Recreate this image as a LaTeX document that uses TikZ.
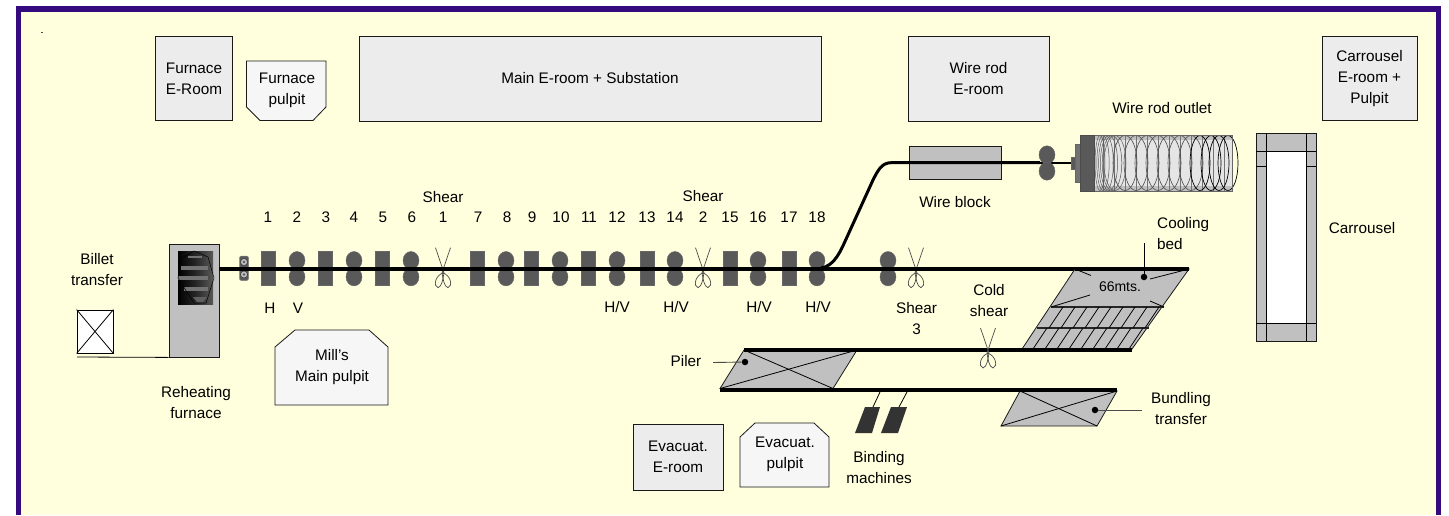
\documentclass[tikz,border=0pt]{standalone}
\usepackage{fontspec}
\setmainfont{Liberation Sans}
\usetikzlibrary{calc}
\definecolor{framecol}{HTML}{350A7E}
\definecolor{paper}{HTML}{FFFEDD}
\definecolor{roomcol}{HTML}{ECECEC}
\definecolor{pulpitcol}{HTML}{F6F6F6}
\definecolor{steel}{HTML}{C0C0C0}
\definecolor{stand}{HTML}{595959}
\tikzset{
  label/.style={inner sep=0pt,align=center,text=black,font=\fontsize{15.3}{21}\selectfont},
  room/.style={label,draw=black!90,fill=roomcol,line width=0.8pt},
  pulpit/.style={draw=black!90,fill=pulpitcol,line width=0.8pt},
  rail/.style={line width=3.8pt,black},
  wire/.style={line width=3pt,black},
  plate/.style={draw=black!90,fill=steel,line width=0.8pt},
  thin line/.style={draw=black,line width=0.8pt},
  leader/.style={draw=black!70,line width=0.9pt},
  dot/.style={circle,fill=black,inner sep=0pt,minimum size=6.5pt},
  scissors/.pic={
    \draw[black!70,line width=0.7pt] (-7.5,-21) -- (1,4) .. controls (-8,6) and (-10,18) .. (-5,19) .. controls (-1,18) and (0,10) .. (1,4);
    \draw[black!70,line width=0.7pt] (7.5,-21) -- (-1,4) .. controls (8,6) and (10,18) .. (5,19) .. controls (1,18) and (0,10) .. (-1,4);
  },
  rolls/.pic={
    \fill[stand,draw=black!60,line width=0.4pt] (0,-8.2) ellipse (8 and 9);
    \fill[stand,draw=black!60,line width=0.4pt] (0,8.2) ellipse (8 and 9);
  }
}
\begin{document}
\begin{tikzpicture}[x=1pt,y=-1pt]
\useasboundingbox (0,0) rectangle (1449,515);
% background and frame
\fill[white] (0,0) rectangle (1449,515);
\fill[framecol] (16,6) rectangle (1441,515);
\fill[paper] (21,12) rectangle (1436,515);
\fill[black!70] (41,32) rectangle (43,33);

% rooms
\node[room,minimum width=77pt,minimum height=84pt] (furnaceroom) at (194,78.5) {Furnace\\E-Room};
\node[room,minimum width=462pt,minimum height=85pt] (mainroom) at (590,78.5) {Main E-room + Substation};
\node[room,minimum width=141pt,minimum height=85pt] (wireroom) at (978.5,78.5) {Wire rod\\E-room};
\node[room,minimum width=95pt,minimum height=84pt] (carroom) at (1369.5,78.5) {Carrousel\\E-room +\\Pulpit};
\node[room,minimum width=90pt,minimum height=66pt] (evacroom) at (678,457) {Evacuat.\\E-room};

% pulpits
\draw[pulpit] (246.5,61) -- (326,61) -- (326,107) -- (313,120.5) -- (260,120.5) -- (246.5,107) -- cycle;
\node[label] (furnacepulpit) at (287,90.5) {Furnace\\pulpit};
\draw[pulpit] (275,347) -- (295,330) -- (369,330) -- (388,347) -- (388,405) -- (275,405) -- cycle;
\node[label] (millpulpit) at (332,367) {Mill's\\Main pulpit};
\draw[pulpit] (740,437) -- (755,423) -- (814,423) -- (829,437) -- (829,487) -- (740,487) -- cycle;
\node[label] (evacpulpit) at (785,454.5) {Evacuat.\\pulpit};

% billet transfer and furnace
\node[label] (billetlabel) at (97,270) {Billet\\transfer};
\node[draw=black,fill=white,line width=0.8pt,minimum width=36pt,minimum height=43pt,inner sep=0pt] (billet) at (95,331.5) {};
\draw[thin line] (billet.north west) -- (billet.south east);
\draw[thin line] (billet.north east) -- (billet.south west);
\node[plate,minimum width=50pt,minimum height=113pt,inner sep=0pt] (furnace) at (194,300.5) {};
\draw[thin line] (77,357) -- (furnace.south west);
\node[label] (furnacelabel) at (196,402.5) {Reheating\\furnace};
\shade[left color=black,right color=black!65,middle color=black!85] (178,251) rectangle (213,304);
\fill[black!55] (188,256) rectangle (202,258);
\fill[steel!60!black] (181,266) rectangle (208,270);
\fill[steel!60!black] (178,276) rectangle (208,280);
\fill[steel!60!black] (184,287) rectangle (208,291);
\fill[steel!50!black] (193,297) -- (207,297) -- (203,302) -- (197,302) -- cycle;
\draw[black,line width=0.5pt] (182,258) -- (194,251) -- (208,257) -- (214,278) -- (206,303) -- (194,303) -- (178,278) -- cycle;

% main line
\coordinate (linestart) at (furnace.east |- 0,268.7);
\coordinate (lineend) at (1189,268.7);
\draw[fill=stand,draw=black!50,line width=0.5pt,rounded corners=2pt] (239.5,256) rectangle (248.5,280.5);
\foreach \y in {262,274.5} {
  \draw[fill=steel,draw=black!80,line width=0.5pt] (244,\y) circle (3.5);
  \fill[stand] (244,\y) circle (1.3);
}
\foreach \x in {268,325,382,477,531,588,647,730,789} {
  \fill[stand,draw=black!60,line width=0.4pt] (\x-7.2,251) rectangle (\x+7.2,285.5);
}
\foreach \x in {297,354,411,506,560,617,675,758,817,888} {
  \pic at (\x,268.7) {rolls};
}
\foreach \x in {443,703,916} {
  \pic at (\x,268.7) {scissors};
}
\draw[rail] (linestart) -- (lineend);
\foreach \x/\n in {268/1,297/2,326/3,354/4,383/5,412/6,443/1,478/7,507/8,532/9,561/10,589/11,617/12,647/13,675/14,703/2,730/15,758/16,789/17,817/18} {
  \node[label] at (\x,217) {\n};
}
\node[label] (shearA) at (443,197) {Shear};
\node[label] (shearB) at (703,196) {Shear};
\node[label] (shearC) at (916.5,319) {Shear\\3};
\node[label] at (270,308) {H};
\node[label] at (298,308) {V};
\foreach \x in {617,676,759,818} {
  \node[label] at (\x,307.5) {H/V};
}

% wire rod branch
\coordinate (wirestart) at (821,268);
\coordinate (wirebend) at (891,162.7);
\coordinate (wireend) at (1040,162.7);
\node[plate,minimum width=92pt,minimum height=33pt,inner sep=0pt] (wireblock) at (955,162.5) {};
\draw[wire] (wirestart) .. controls (835,266) and (841,250) .. (847,237) -- (873,180) .. controls (878,170) and (882,162.7) .. (wirebend) -- (wireend);
\node[label] (wireblocklabel) at (955,202) {Wire block};
\draw[line width=1.8pt] (wireend) -- (1072,162.7);
\pic at (1047,163) {rolls};
\draw[fill=stand,draw=black!60,line width=0.4pt] (1071,157) rectangle (1075,169);
\draw[fill=stand!85,draw=black!60,line width=0.4pt] (1075,144) rectangle (1080,182);

% coil outlet
\fill[steel] (1094,135) rectangle (1232,191);
\fill[black!10] (1094,140) rectangle (1232,186);
\foreach \x in {1103,1114,...,1232} {
  \draw[black!55,line width=0.5pt] (\x,135) -- (\x,191);
}
\foreach \x in {1100,1103,1106,1109,1112,1115} {
  \draw[black!65,line width=0.5pt] (\x,163) ellipse (4+0.4*\x-439 and 27.5);
}
\foreach \x in {1125,1136,...,1191} {
  \draw[black!70,line width=0.6pt] (\x,163) ellipse (12 and 27.5);
}
\foreach \x in {1200,1211,1219,1228} {
  \draw[black,line width=0.7pt] (\x,163) ellipse (10 and 27.5);
}
\draw[black!60,line width=0.7pt] (1094,135) rectangle (1232,191);
\fill[stand,draw=black!70,line width=0.5pt] (1080,135) rectangle (1094,191);
\node[label] (outletlabel) at (1162,108) {Wire rod outlet};

% carrousel
\draw[plate] (1256,133) rectangle (1316,341);
\fill[white] (1266,151) rectangle (1306,323);
\draw[thin line] (1266,133) -- (1266,341);
\draw[thin line] (1306,133) -- (1306,341);
\draw[thin line] (1256,151) -- (1316,151);
\draw[thin line] (1256,323) -- (1316,323);
\draw[thin line] (1256,166) -- (1266,166);
\draw[thin line] (1306,166) -- (1316,166);
\node[label] (carlabel) at (1362,228) {Carrousel};

% cooling bed
\draw[plate] (1075,269) -- (1189,269) -- (1132,349) -- (1022,349) -- cycle;
\draw[line width=1.4pt,black!85] (1051,307) -- (1164,307);
\draw[line width=1.4pt,black!85] (1037,328) -- (1149,328);
\foreach \x in {1063,1075,...,1159} {
  \draw[thin line] (\x,307) -- (\x-14,328);
}
\foreach \x in {1047,1059,...,1143} {
  \draw[thin line] (\x,328) -- (\x-14,349);
}
\draw[thin line] (1075,269) -- (1091,275.5);
\draw[thin line] (1164,307) -- (1150,301);
\draw[thin line] (1189,269) -- (1150,279);
\draw[thin line] (1051,307) -- (1090,295);
\node[label,font=\fontsize{14}{14}\selectfont] (bedlength) at (1120,287) {66mts.};
\node[dot] (beddot) at (1144,277) {};
\coordinate (bedtop) at (1144,243);
\draw[black,line width=0.8pt] (beddot) -- (bedtop);
\node[label,align=left,anchor=west] (bedlabel) at (1157,233.5) {Cooling\\bed};
\draw[rail] (lineend) -- (1075,268.7);

% transfer lines
\draw[plate] (744,350) -- (857,350) -- (833,388.5) -- (720,388.5) -- cycle;
\draw[thin line] (744,350) -- (833,388.5);
\draw[thin line] (857,350) -- (720,388.5);
\coordinate (pileredge) at (713,362.5);
\node[dot] (pilerdot) at (745,362) {};
\draw[leader] (pileredge) -- (pilerdot);
\node[label] (pilerlabel) at (686,361) {Piler};
\draw[plate] (1020,391) -- (1117,391) -- (1097,426) -- (1001,426) -- cycle;
\draw[thin line] (1020,391) -- (1097,426);
\draw[thin line] (1117,391) -- (1001,426);
\node[dot] (bundledot) at (1095,410) {};
\node[label] (bundlelabel) at (1181,408.5) {Bundling\\transfer};
\draw[leader] (bundledot) -- (1142,410);
\draw[rail] (744,350) -- (1132,350);
\draw[rail] (720,390) -- (1117,390);
\pic at (988,349) {scissors};
\node[label] (coldshear) at (989,300.5) {Cold\\shear};

% binding machines
\draw[thin line] (880,392) -- (873,407);
\draw[thin line] (907,392) -- (899,407);
\fill[black!80] (865,407) -- (880,407) -- (872,433) -- (855,433) -- cycle;
\fill[black!80] (891,407) -- (907,407) -- (898,433) -- (881,433) -- cycle;
\node[label] (bindlabel) at (879,467.5) {Binding\\machines};
\end{tikzpicture}
\end{document}
